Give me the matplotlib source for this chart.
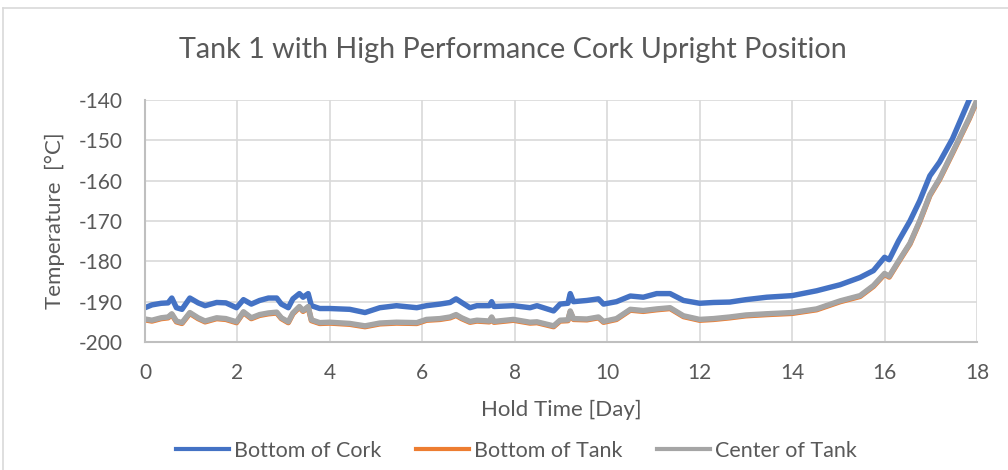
import matplotlib
matplotlib.use("Agg")
import matplotlib.pyplot as plt
from matplotlib.lines import Line2D
from matplotlib.ticker import FuncFormatter

plt.rcParams['font.family'] = ['Lato', 'DejaVu Sans']

# hold time in days
days = [0, 0.15, 0.35, 0.5, 0.58, 0.68, 0.8, 0.97, 1.15, 1.3, 1.55, 1.75, 1.98,
        2.13, 2.3, 2.48, 2.67, 2.85, 2.95, 3.1, 3.2, 3.34, 3.42, 3.53, 3.6, 3.78,
        4.0, 4.43, 4.76, 5.08, 5.44, 5.88, 6.09, 6.38, 6.6, 6.73, 6.85, 7.03, 7.18,
        7.45, 7.5, 7.55, 7.97, 8.33, 8.48, 8.84, 8.98, 9.15, 9.2, 9.27, 9.56, 9.81,
        9.92, 10.2, 10.5, 10.78, 11.07, 11.36, 11.65, 12.0, 12.3, 12.65, 13.0, 13.45,
        14.0, 14.53, 15.04, 15.47, 15.76, 16.0, 16.1, 16.3, 16.55, 16.76, 16.98,
        17.19, 17.47, 17.83, 18.0]

bottom_cork = [-191.5, -190.8, -190.4, -190.3, -189.1, -191.5, -191.9, -189.1, -190.3,
               -191.0, -190.2, -190.3, -191.5, -189.5, -190.6, -189.7, -189.1, -189.1,
               -190.6, -191.5, -189.3, -188.0, -188.9, -188.0, -191.0, -191.7, -191.7,
               -191.9, -192.7, -191.5, -191.0, -191.5, -191.0, -190.6, -190.2, -189.3,
               -190.2, -191.5, -191.0, -191.0, -190.0, -191.2, -191.0, -191.5, -191.0,
               -192.3, -190.6, -190.4, -188.0, -190.0, -189.7, -189.3, -190.6, -190.0,
               -188.6, -188.9, -188.0, -188.0, -189.7, -190.4, -190.2, -190.1, -189.5,
               -188.9, -188.5, -187.3, -185.8, -184.0, -182.3, -179.0, -179.6, -175.0,
               -170.0, -165.0, -158.8, -155.4, -149.6, -140.0, -136.5]

center_tank = [-194.3, -194.6, -194.0, -193.8, -193.0, -194.8, -195.2, -192.7, -194.0,
               -194.8, -194.0, -194.2, -195.0, -192.5, -194.0, -193.2, -192.8, -192.6,
               -194.0, -195.0, -192.8, -191.2, -192.2, -191.2, -194.5, -195.2, -195.1,
               -195.4, -196.0, -195.3, -195.1, -195.2, -194.4, -194.2, -193.8, -193.2,
               -194.0, -194.9, -194.6, -194.8, -193.8, -194.9, -194.4, -195.1, -195.0,
               -196.0, -194.6, -194.5, -192.3, -194.2, -194.3, -193.8, -194.9, -194.2,
               -191.9, -192.2, -191.8, -191.5, -193.5, -194.4, -194.2, -193.8, -193.3,
               -193.0, -192.7, -191.8, -189.8, -188.5, -186.0, -183.0, -183.7, -180.0,
               -175.5, -170.0, -163.5, -159.5, -153.0, -144.5, -140.0]

bottom_tank = [-194.5, -194.8, -194.2, -194.0, -193.2, -195.0, -195.4, -192.9, -194.2,
               -195.0, -194.2, -194.4, -195.2, -192.7, -194.2, -193.4, -193.0, -192.8,
               -194.2, -195.2, -193.0, -191.4, -192.4, -191.4, -194.7, -195.4, -195.3,
               -195.6, -196.2, -195.5, -195.3, -195.4, -194.6, -194.4, -194.0, -193.4,
               -194.2, -195.1, -194.8, -195.0, -194.0, -195.1, -194.6, -195.3, -195.2,
               -196.2, -194.8, -194.7, -192.5, -194.4, -194.5, -194.0, -195.1, -194.4,
               -192.1, -192.4, -192.0, -191.7, -193.7, -194.6, -194.4, -194.0, -193.5,
               -193.2, -192.9, -192.0, -190.0, -188.7, -186.2, -183.2, -183.9, -180.2,
               -175.7, -170.2, -163.7, -159.7, -153.2, -144.7, -140.2]

series = [("Bottom of Cork", bottom_cork, "#4472C4"),
          ("Bottom of Tank", bottom_tank, "#ED7D31"),
          ("Center of Tank", center_tank, "#A5A5A5")]

fig = plt.figure(figsize=(10.08, 4.70), dpi=100)
ax = fig.add_axes([145 / 1008, 1 - 342 / 470, 832 / 1008, 242 / 470])

for name, vals, col in series:
    ax.plot(days, vals, color=col, lw=3.9, label=name, solid_capstyle='round')

ax.set_xlim(0, 18)
ax.set_ylim(-200, -140)
ax.set_xticks(range(0, 19, 2))
ax.set_yticks(range(-200, -139, 10))
ax.yaxis.set_major_formatter(FuncFormatter(lambda v, p: f"{int(v)}".replace("\u2212", "-")))
ax.grid(True, color="#D9D9D9", lw=1.2)
ax.set_axisbelow(True)
for s in ["top", "right"]:
    ax.spines[s].set_visible(False)
for s in ["left", "bottom"]:
    ax.spines[s].set_color("#BFBFBF")
    ax.spines[s].set_linewidth(1.5)
ax.tick_params(length=0, labelsize=15, colors="#595959")
ax.tick_params(axis="x", pad=15)
ax.tick_params(axis="y", pad=16)

ax.set_xlabel("Hold Time [Day]", fontsize=16, color="#595959")
ax.set_ylabel("Temperature  [\u00b0C]", fontsize=16, color="#595959")
ax.xaxis.set_label_coords(0.5, (342 - 410) / 242)
ax.yaxis.set_label_coords((55 - 145) / 832, 0.5)
ax.xaxis.label.set_va("center")
ax.yaxis.label.set_va("center")
fig.text(513 / 1008, 1 - 50 / 470, "Tank 1 with High Performance Cork Upright Position",
         ha="center", va="center", fontsize=20.7, color="#595959")

handles = [Line2D([0], [0], color=c, lw=3) for _, _, c in series]
fig.legend(handles, [n for n, _, _ in series], loc="center", ncol=3,
           bbox_to_anchor=(0.512, 1 - 451 / 470), frameon=False, fontsize=15.5,
           handlelength=2.5, handletextpad=0.2, columnspacing=1.6,
           labelcolor="#595959")

# chart frame
fig.add_artist(Line2D([3 / 1008, 3 / 1008], [0, 1 - 8 / 470], color="#D9D9D9", lw=1.2))
fig.add_artist(Line2D([3 / 1008, 1], [1 - 8 / 470, 1 - 8 / 470], color="#D9D9D9", lw=1.2))

fig.savefig("out.png", dpi=100)
